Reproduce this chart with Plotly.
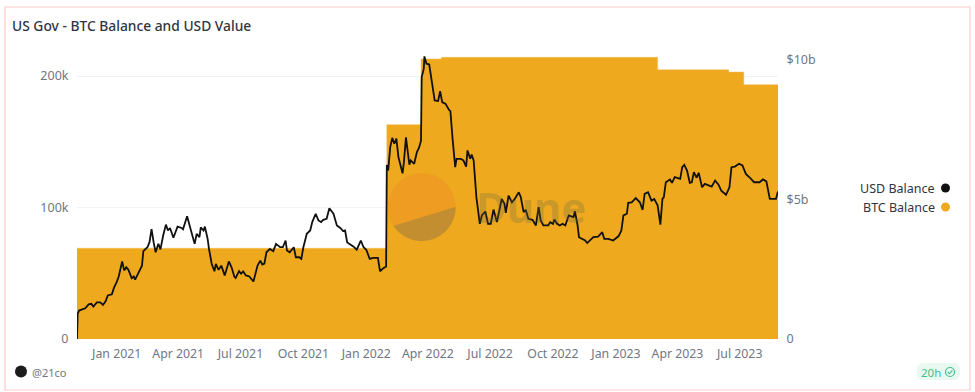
import math
import pandas as pd
import plotly.graph_objects as go

START_DATE = "2020-11-04"
END_DAY = 1025

btc_days = [0, 453, 503, 533, 849, 953, 975, 1025]
btc_balance = [69000, 163000, 213000, 214200, 204700, 203000, 193400, 193400]

usd_days = [0, 1, 3, 12, 17, 21, 24, 29, 34, 38, 42, 45, 51, 54, 58, 61, 66, 69, 72, 75, 80, 83, 85, 90, 95, 97, 103, 106, 109, 112, 115, 119, 122, 126, 130, 133, 136, 141, 147, 153, 155, 161, 164, 168, 172, 175, 179, 181, 185, 187, 191, 193, 197, 201, 203, 207, 211,
            216, 219, 222, 226, 230, 232, 237, 240, 243, 247, 252, 258, 264, 268, 271, 274, 277, 282, 287, 291, 297, 301, 305, 307, 311, 317, 320, 325, 328, 331, 336, 341, 344, 349, 353, 357, 360, 365, 369, 375, 380, 385, 389, 392, 395, 398, 404, 409, 415, 419, 423, 428, 433, 440, 443, 448, 452,
            453, 455, 458, 461, 464, 467, 470, 473, 476, 478, 481, 484, 486, 488, 493, 497, 500, 503, 504, 507, 508, 511, 515, 519, 521, 523, 528, 531, 534, 539, 544, 546, 549, 553, 555, 561, 565, 569, 571, 575, 577, 580,
            584, 587, 589, 592, 597, 601, 605, 609, 614, 621, 625, 627, 631, 636, 640, 646, 649, 653, 656, 660, 666, 671, 675, 678, 682, 689, 692, 696, 698, 702, 706, 710, 714, 719, 726, 728, 732, 734, 738, 743, 746, 750, 755, 762, 768, 771, 777, 784, 792,
            796, 799, 804, 806, 811, 817, 823, 827, 830, 835, 840, 844, 849, 853, 856, 858, 861, 867, 870, 874, 882, 885, 888, 892, 896, 899, 902, 906, 909, 914, 918, 928, 933, 938, 942, 949, 954, 957, 962, 968, 973, 978, 984, 990, 998, 1003, 1008, 1013, 1022, 1025]
usd_billions = [0.0, 0.9, 1.02, 1.1, 1.24, 1.26, 1.16, 1.31, 1.31, 1.22, 1.36, 1.56, 1.6, 1.83, 2.04, 2.24, 2.78, 2.46, 2.57, 2.49, 2.18, 2.24, 2.13, 2.37, 2.63, 3.15, 3.29, 3.47, 3.94, 3.47, 3.11, 3.41, 3.21, 3.71, 4.1, 3.89, 3.98, 3.63, 4.03, 3.98, 3.93, 4.4, 4.13, 3.83, 3.41, 3.77, 3.65, 4.0, 3.89, 4.03, 3.59, 3.23, 2.69, 2.43, 2.69, 2.48, 2.63,
                2.28, 2.51, 2.78, 2.57, 2.24, 2.19, 2.43, 2.34, 2.42, 2.28, 2.24, 2.06, 2.63, 2.81, 2.67, 2.7, 3.11, 3.23, 3.15, 3.41, 3.29, 3.29, 3.53, 3.17, 3.11, 3.29, 2.93, 2.93, 2.87, 3.29, 3.77, 3.89, 4.19, 4.49, 4.25, 4.19, 4.27, 4.31, 4.69, 4.49, 4.07, 3.98, 3.87, 3.89, 3.47, 3.41, 3.32, 3.2, 3.53, 3.29, 3.2, 2.87, 2.91, 2.91, 2.43, 2.54, 2.6,
                6.24, 6.04, 6.88, 7.21, 7.0, 7.18, 6.52, 6.22, 5.94, 6.34, 7.23, 6.64, 6.25, 6.4, 6.28, 6.7, 6.85, 7.11, 9.39, 9.68, 10.13, 9.87, 9.84, 9.2, 8.91, 8.55, 8.53, 8.88, 8.49, 8.43, 8.21, 8.17, 7.23, 6.16, 6.46, 6.46, 6.4, 6.18, 6.76, 6.46, 6.61, 6.4,
                5.08, 4.55, 4.13, 4.43, 4.57, 4.13, 4.13, 4.64, 4.19, 5.02, 4.85, 4.52, 5.14, 4.9, 5.02, 5.26, 5.08, 4.55, 4.63, 4.31, 4.27, 4.07, 4.73, 4.25, 4.07, 4.07, 4.19, 4.13, 4.28, 4.13, 4.07, 4.13, 4.07, 4.43, 4.37, 4.58, 4.07, 3.65, 3.59, 3.53, 3.44, 3.53, 3.65, 3.67, 3.83, 3.59, 3.59, 3.53, 3.69,
                3.89, 4.43, 4.49, 4.88, 4.9, 5.05, 4.9, 4.63, 5.2, 5.26, 4.96, 5.02, 4.79, 4.1, 5.02, 5.08, 5.62, 5.72, 5.6, 5.8, 5.74, 6.16, 6.24, 6.04, 5.6, 5.62, 5.98, 5.78, 5.96, 5.44, 5.56, 5.46, 5.68, 5.53, 5.32, 5.17, 5.44, 6.16, 6.18, 6.28, 6.22, 5.92, 5.78, 5.62, 5.62, 5.72, 5.65, 5.02, 5.02, 5.29]

left_ticks = [0, 100000, 200000]
left_labels = ["0", "100k", "200k"]
right_ticks = [0, 5, 10]
right_labels = ["0", "$5b", "$10b"]
title_text = "US Gov - BTC Balance and USD Value"
legend_names = ["USD Balance", "BTC Balance"]

W, H = 975, 392
L, R, T, B = 77, 778, 50, 339
BTC_COLOR = "#EEA91F"
TICK_COLOR = "#707683"
TEXT_COLOR = "#2F3542"
FONT = "Noto Sans"


def px(x):
    return (x - L) / (R - L)


def py(y):
    return (B - y) / (B - T)


def to_dates(days):
    return pd.Timestamp(START_DATE) + pd.to_timedelta(days, unit="D")


fig = go.Figure()
fig.add_trace(go.Scatter(
    x=to_dates(btc_days), y=btc_balance, mode="lines", line=dict(shape="hv", width=0.5, color="#F2BC55"),
    fill="tozeroy", fillcolor=BTC_COLOR, name=legend_names[1], showlegend=False, yaxis="y"))
fig.add_trace(go.Scatter(
    x=to_dates(usd_days), y=usd_billions, mode="lines", line=dict(width=1.8, color="#111111"),
    name=legend_names[0], showlegend=False, yaxis="y2"))

shapes = []
annotations = []


def text(x, y, s, size, color, anchor="left", weight=None):
    font = dict(family=FONT, size=size, color=color)
    if weight:
        font["weight"] = weight
    annotations.append(dict(xref="paper", yref="paper", x=px(x), y=py(y), text=s, showarrow=False,
                            xanchor=anchor, yanchor="middle", font=font, xshift=0, yshift=0,
                            borderpad=0, borderwidth=0))


def circle(cx, cy, r, fill, line=None, layer="above", width=1):
    shapes.append(dict(type="circle", xref="paper", yref="paper", x0=px(cx - r), x1=px(cx + r),
                       y0=py(cy + r), y1=py(cy - r), fillcolor=fill, layer=layer,
                       line=dict(width=width if line else 0, color=line or fill)))


def poly(points, fill=None, line=None, width=1, close=True):
    d = "M " + " L ".join(f"{px(a):.5f},{py(b):.5f}" for a, b in points) + (" Z" if close else "")
    shapes.append(dict(type="path", xref="paper", yref="paper", path=d, layer="above",
                       fillcolor=fill or "rgba(0,0,0,0)", line=dict(width=width if line else 0, color=line or "rgba(0,0,0,0)")))


# card border
shapes.append(dict(type="rect", xref="paper", yref="paper", x0=px(5), x1=px(970), y0=py(390), y1=py(7),
                   line=dict(color="#FFC9C9", width=1.2), fillcolor="rgba(0,0,0,0)", layer="above"))

# watermark
WX, WY, WR = 421.7, 207, 34
circle(WX, WY, WR, "rgba(240,140,40,0.45)")
a0 = math.atan2(226 - WY, 393.3 - WX)
a1 = math.atan2(206.7 - WY, 456 - WX)
arc = []
n = 40
start = a0
stop = a1 if a1 < a0 else a1 - 2 * math.pi
for i in range(n + 1):
    a = start + (stop - start) * i / n
    arc.append((WX + WR * math.cos(a), WY + WR * math.sin(a)))
poly(arc, fill="rgba(120,120,70,0.38)")
text(476, 206, "Dune", 42, "rgba(110,105,70,0.28)", weight=700)

# title, legend, footer
text(12, 25, title_text, 13.8, TEXT_COLOR, weight=500)
text(935, 188, legend_names[0], 12.5, TEXT_COLOR, anchor="right")
text(935, 207, legend_names[1], 12.5, TEXT_COLOR, anchor="right")
circle(945.5, 188, 4.5, "#111111")
circle(945.5, 207, 4.5, BTC_COLOR)
circle(21, 371.5, 6, "#1c1c1c")
text(32, 372, "@21co", 11, TICK_COLOR)

# freshness badge
bx0, bx1, by0, by1, rad = 917, 960, 363, 380, 4
badge = [(bx0 + rad, by0), (bx1 - rad, by0), (bx1, by0 + rad), (bx1, by1 - rad), (bx1 - rad, by1), (bx0 + rad, by1), (bx0, by1 - rad), (bx0, by0 + rad)]
poly(badge, fill="#E9F8F1")
text(921, 372, "20h", 11.5, "#3CC08C")
circle(950, 372, 4.5, "rgba(0,0,0,0)", line="#3CC08C", width=1.2)
poly([(947.8, 372), (949.5, 373.8), (952.4, 370.4)], line="#3CC08C", width=1.1, close=False)

fig.update_layout(
    width=W, height=H, autosize=False,
    margin=dict(l=L, r=W - R, t=T, b=H - B),
    paper_bgcolor="white", plot_bgcolor="white",
    showlegend=False,
    shapes=shapes, annotations=annotations,
    font=dict(family=FONT, size=12, color=TICK_COLOR),
    xaxis=dict(type="date", range=[to_dates(0), to_dates(END_DAY)], tick0="2021-01-01", dtick="M3",
               tickformat="%b %Y", showgrid=False, zeroline=False, showline=False,
               ticks="outside", ticklen=3, tickcolor="rgba(0,0,0,0)",
               tickfont=dict(family=FONT, size=12.3, color=TICK_COLOR)),
    yaxis=dict(range=[0, 219800], tickvals=left_ticks, ticktext=left_labels, showgrid=True, gridcolor="#F3F3F4",
               gridwidth=1, zeroline=False, showline=False, ticks="outside", ticklen=5,
               tickcolor="rgba(0,0,0,0)", tickfont=dict(family=FONT, size=12.5, color=TICK_COLOR)),
    yaxis2=dict(range=[0, 10.36], overlaying="y", side="right", tickvals=right_ticks, ticktext=right_labels,
                showgrid=False, zeroline=False, showline=False, ticks="outside", ticklen=5,
                tickcolor="rgba(0,0,0,0)", tickfont=dict(family=FONT, size=12.5, color=TICK_COLOR)),
)

fig.write_html("out.html", config=dict(displayModeBar=False),
               post_script="document.body.style.margin='0';")
